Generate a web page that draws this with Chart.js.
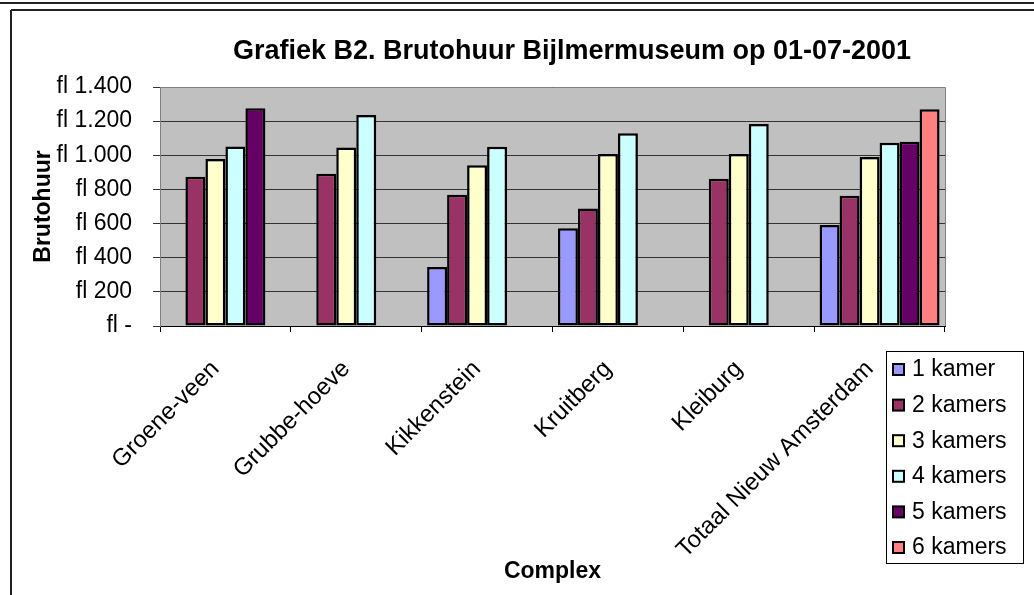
<!DOCTYPE html>
<html>
<head>
<meta charset="utf-8">
<title>Brutohuur Bijlmermuseum</title>
<script src="https://cdn.jsdelivr.net/npm/chart.js@4.4.1/dist/chart.umd.min.js"></script>
<style>
  html, body { margin: 0; padding: 0; background: #fff; }
  canvas { display: block; }
</style>
</head>
<body>
<canvas id="chart" width="1034" height="595"></canvas>
<script>
const TITLE = 'Grafiek B2. Brutohuur Bijlmermuseum op 01-07-2001';
const X_TITLE = 'Complex';
const Y_TITLE = 'Brutohuur';

const categories = ['Groene-veen', 'Grubbe-hoeve', 'Kikkenstein', 'Kruitberg', 'Kleiburg', 'Totaal Nieuw Amsterdam'];
const seriesLabels = ['1 kamer', '2 kamers', '3 kamers', '4 kamers', '5 kamers', '6 kamers'];

const kamer1 = [null, null, 346, 572, null, 592];
const kamer2 = [875, 892, 769, 689, 863, 763];
const kamer3 = [978, 1045, 941, 1008, 1008, 990];
const kamer4 = [1052, 1236, 1050, 1129, 1183, 1074];
const kamer5 = [1275, null, null, null, null, 1080];
const kamer6 = [null, null, null, null, null, 1270];

const yTicks = [0, 200, 400, 600, 800, 1000, 1200, 1400];

const seriesColors = ['#9999FF', '#993366', '#FFFFCC', '#CCFFFF', '#660066', '#FF8080'];

// target plot box (px)
const PLOT = { left: 160, right: 945, top: 87, bottom: 326 };
const PAD_LEFT = 20;

Chart.defaults.font.family = "'Liberation Sans', Arial, sans-serif";
Chart.defaults.color = '#000';

function fmtGulden(v) {
  if (v === 0) return 'fl -';
  if (v >= 1000) return 'fl ' + Math.floor(v / 1000) + '.' + String(v % 1000).padStart(3, '0');
  return 'fl ' + v;
}

// frame, plot background, title
const backdrop = {
  id: 'backdrop',
  beforeDraw(chart) {
    const { ctx, chartArea: a, width, height } = chart;
    ctx.save();
    ctx.fillStyle = '#fff';
    ctx.fillRect(0, 0, width, height);
    ctx.strokeStyle = '#222';
    ctx.lineWidth = 2;
    ctx.beginPath();
    ctx.moveTo(0, 3); ctx.lineTo(width, 3);
    ctx.moveTo(11, 10); ctx.lineTo(width, 10);
    ctx.moveTo(11, 10); ctx.lineTo(11, height);
    ctx.stroke();
    ctx.fillStyle = '#C0C0C0';
    ctx.fillRect(a.left, a.top, a.right - a.left, a.bottom - a.top);
    ctx.restore();
  },
  afterDatasetsDraw(chart) {
    const { ctx, chartArea: a } = chart;
    ctx.save();
    ctx.strokeStyle = '#808080';
    ctx.lineWidth = 1;
    ctx.beginPath();
    ctx.moveTo(a.left, a.top + 0.5); ctx.lineTo(a.right + 0.5, a.top + 0.5);
    ctx.lineTo(a.right + 0.5, a.bottom);
    ctx.stroke();
    ctx.fillStyle = '#000';
    ctx.font = "bold 27px 'Liberation Sans', Arial, sans-serif";
    ctx.textAlign = 'center';
    ctx.textBaseline = 'middle';
    ctx.fillText(TITLE, 572, 52);
    ctx.restore();
  }
};

// legend box at lower right
const boxLegend = {
  id: 'boxLegend',
  afterDraw(chart) {
    const { ctx } = chart;
    const x0 = 886, y0 = 351, w = 137, h = 212;
    ctx.save();
    ctx.strokeStyle = '#000';
    ctx.lineWidth = 1;
    ctx.strokeRect(x0 + 0.5, y0 + 0.5, w, h);
    ctx.font = "23px 'Liberation Sans', Arial, sans-serif";
    ctx.textBaseline = 'middle';
    ctx.textAlign = 'left';
    chart.data.datasets.forEach((ds, i) => {
      const cy = 369 + i * 35.6;
      ctx.fillStyle = ds.backgroundColor;
      ctx.fillRect(893, cy - 5, 11, 11);
      ctx.lineWidth = 2;
      ctx.strokeStyle = '#000';
      ctx.strokeRect(893, cy - 5, 11, 11);
      ctx.fillStyle = '#000';
      ctx.fillText(ds.label, 912, cy + 1);
    });
    ctx.restore();
  }
};

const seriesData = [kamer1, kamer2, kamer3, kamer4, kamer5, kamer6];

new Chart(document.getElementById('chart'), {
  type: 'bar',
  data: {
    labels: categories,
    datasets: seriesData.map((d, i) => ({
      label: seriesLabels[i],
      data: d,
      backgroundColor: seriesColors[i],
      borderColor: '#000',
      borderWidth: 2.5,
      borderSkipped: false,
      categoryPercentage: 0.917,
      barPercentage: 1.0,
    })),
  },
  options: {
    responsive: false,
    animation: false,
    layout: { padding: { left: PAD_LEFT, right: 1034 - PLOT.right, top: PLOT.top, bottom: 0 } },
    plugins: {
      legend: { display: false },
      title: { display: false },
      tooltip: { enabled: false },
    },
    scales: {
      x: {
        afterFit: s => { s.height = 595 - PLOT.bottom; },
        grid: { display: true, drawOnChartArea: false, tickLength: 6, color: '#000', offset: true },
        border: { display: true, color: '#000', width: 1 },
        ticks: {
          autoSkip: false,
          minRotation: 45,
          maxRotation: 45,
          padding: 23,
          labelOffset: -10,
          font: { size: 24 },
          color: '#000',
        },
        title: {
          display: true,
          text: X_TITLE,
          font: { size: 23, weight: 'bold' },
          padding: { top: 0, bottom: 10 },
          color: '#000',
        },
      },
      y: {
        min: 0,
        max: 1400,
        afterFit: s => { s.width = PLOT.left - PAD_LEFT; },
        afterBuildTicks: s => { s.ticks = yTicks.map(v => ({ value: v })); },
        grid: { color: '#333', tickLength: 7, lineWidth: 1 },
        border: { display: true, color: '#808080', width: 1 },
        ticks: {
          padding: 21,
          font: { size: 23 },
          color: '#000',
          callback: v => fmtGulden(v),
        },
        title: {
          display: true,
          text: Y_TITLE,
          font: { size: 23, weight: 'bold' },
          padding: { top: 10, bottom: 0 },
          color: '#000',
        },
      },
    },
  },
  plugins: [backdrop, boxLegend],
});
</script>
</body>
</html>
